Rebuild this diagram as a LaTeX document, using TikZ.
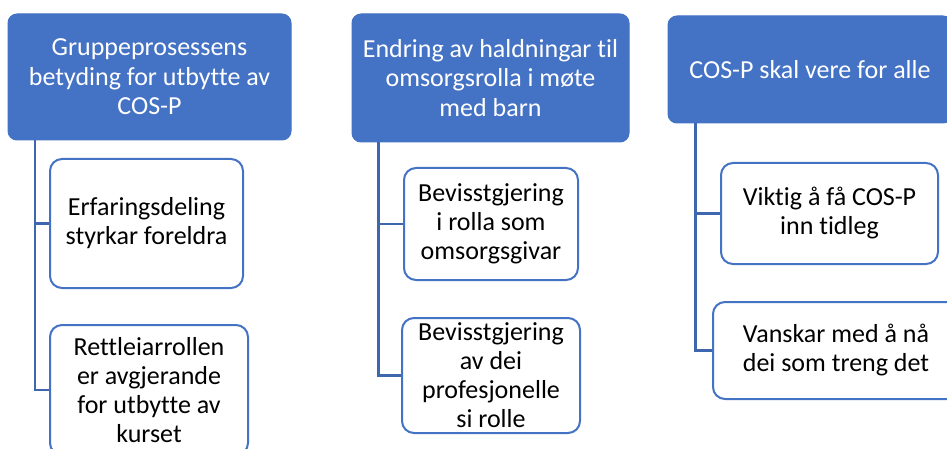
\documentclass[tikz,border=0pt]{standalone}
\usepackage{fontspec}
\setmainfont{Carlito}[Ligatures=NoCommon]
\usetikzlibrary{calc}
\definecolor{hblue}{HTML}{4472C4}
\definecolor{lblue}{HTML}{3F67B0}
\tikzset{
  head/.style={draw=hblue, fill=hblue, line width=1pt, rounded corners=9pt, text=white, align=center, inner sep=0pt,
    font=\fontsize{26}{29.5}\selectfont},
  kid/.style={draw=hblue, fill=white, line width=2pt, rounded corners=12pt, text=black, align=center, inner sep=0pt,
    font=\fontsize{26}{29}\selectfont},
  conn/.style={draw=lblue, line width=2.8pt}
}
\begin{document}
\begin{tikzpicture}[x=1pt,y=-1pt]
\useasboundingbox (0,0) rectangle (947,449);
\clip (0,0) rectangle (947,449);
% column 1
\node[head, minimum width=283pt, minimum height=126pt] (h1) at (149.5,77) {Gruppeprosessens\\betyding for utbytte av\\COS-P};
\node[kid, minimum width=193pt, minimum height=129pt] (c11) at (146.5,223.5) {Erfaringsdeling\\styrkar foreldra};
\node[kid, minimum width=198pt, minimum height=130pt] (c12) at (149,390) {Rettleiarrollen\\er avgjerande\\for utbytte av\\kurset};
\coordinate (t1) at (35,140);
\draw[conn] (t1) |- (c12.west);
\draw[conn] (c11.west -| t1) -- (c11.west);
% column 2
\node[head, minimum width=277pt, minimum height=128pt] (h2) at (490.5,78) {Endring av haldningar til\\omsorgsrolla i møte\\med barn};
\node[kid, minimum width=174pt, minimum height=112pt] (c21) at (491,224) {Bevisstgjering\\i rolla som\\omsorgsgivar};
\node[kid, minimum width=178pt, minimum height=115pt] (c22) at (491,375.5) {Bevisstgjering\\av dei\\profesjonelle\\si rolle};
\coordinate (t2) at (378.5,142);
\draw[conn] (t2) |- (c22.west);
\draw[conn] (c21.west -| t2) -- (c21.west);
% column 3
\node[head, minimum width=284pt, minimum height=107pt] (h3) at (810,69.5) {COS-P skal vere for alle};
\node[kid, minimum width=217pt, minimum height=101pt] (c31) at (829.5,213.5) {Viktig å få COS-P\\inn tidleg};
\node[kid, minimum width=246pt, minimum height=97pt] (c32) at (836,350.5) {Vanskar med å nå\\dei som treng det};
\coordinate (t3) at (695.5,123);
\draw[conn] (t3) |- (c32.west);
\draw[conn] (c31.west -| t3) -- (c31.west);
\end{tikzpicture}
\end{document}
